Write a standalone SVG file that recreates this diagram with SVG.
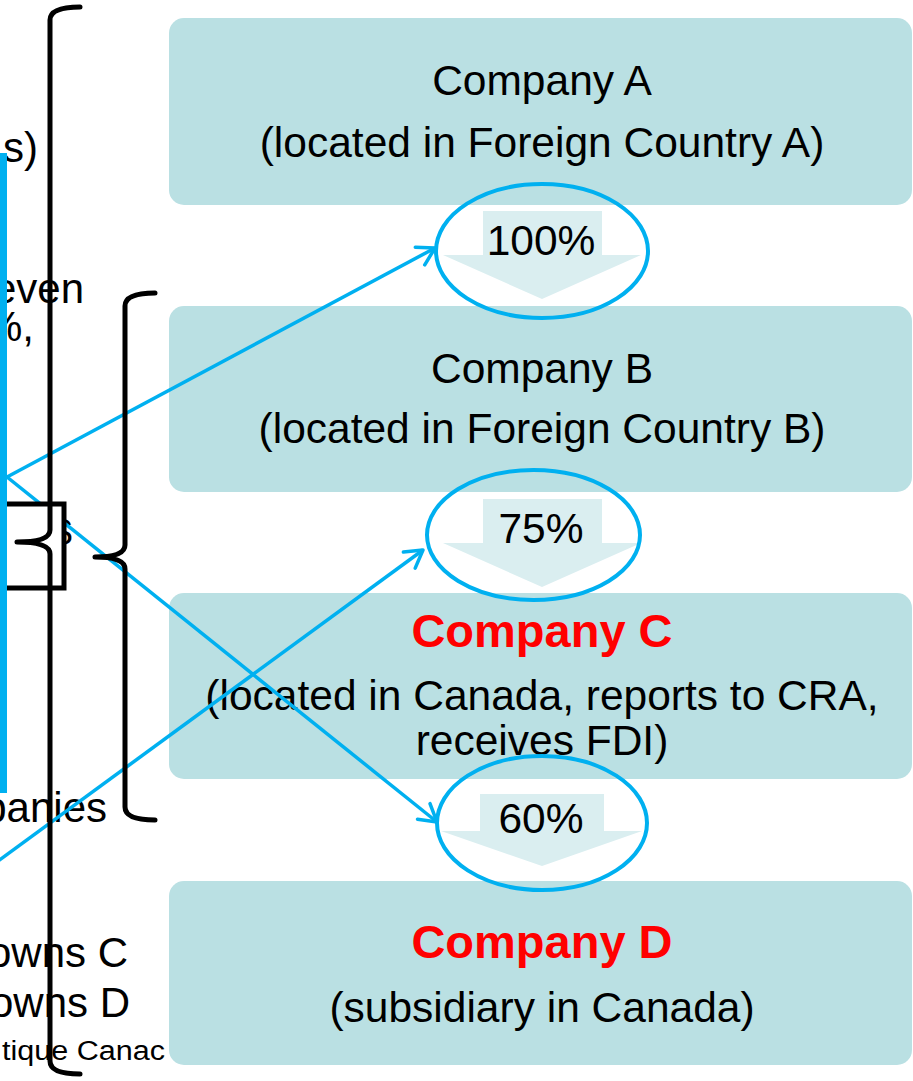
<svg xmlns="http://www.w3.org/2000/svg" width="913" height="1081" viewBox="0 0 913 1081">
<defs>
<style>
.box{fill:#BAE0E3}
.t{font-family:"Liberation Sans",Arial,sans-serif;font-size:42.5px;fill:#000;text-anchor:middle}
.b{font-family:"Liberation Sans",Arial,sans-serif;font-size:47px;font-weight:bold;fill:#FF0000;text-anchor:middle}
.l{font-family:"Liberation Sans",Arial,sans-serif;font-size:42px;fill:#000;text-anchor:end}
.arr{fill:#DAEEF0}
.ell{fill:none;stroke:#00B0F0;stroke-width:4}
.con{fill:none;stroke:#00B0F0;stroke-width:3.5}
.brace{fill:none;stroke:#000;stroke-width:5;stroke-linecap:round;stroke-linejoin:round}
</style>
<marker id="ah" viewBox="-2 -2 24 24" markerWidth="24" markerHeight="24" refX="18" refY="10" orient="auto" markerUnits="userSpaceOnUse">
<path d="M1,0 L18,10 L1,20" fill="none" stroke="#00B0F0" stroke-width="3.5" stroke-linecap="round" stroke-linejoin="round"/>
</marker>
</defs>

<g id="companyA">
<rect class="box" x="169" y="18" width="743" height="187" rx="15"/>
<text class="t" x="542" y="95">Company A</text>
<text class="t" x="542" y="157">(located in Foreign Country A)</text>
</g>
<g id="companyB">
<rect class="box" x="169" y="306" width="743" height="186" rx="15"/>
<text class="t" x="542" y="383">Company B</text>
<text class="t" x="542" y="443">(located in Foreign Country B)</text>
</g>
<g id="companyC">
<rect class="box" x="169" y="593" width="743" height="186" rx="15"/>
<text class="b" x="542" y="647">Company C</text>
<text class="t" x="542" y="710">(located in Canada, reports to CRA,</text>
<text class="t" x="542" y="755">receives FDI)</text>
</g>
<g id="companyD">
<rect class="box" x="169" y="881" width="743" height="184" rx="15"/>
<text class="b" x="542" y="958">Company D</text>
<text class="t" x="542" y="1022">(subsidiary in Canada)</text>
</g>

<g id="share100">
<path class="arr" d="M483,211 H602 V255 H641 L542,299 L443,255 H483 Z"/>
<text class="t" x="541" y="255">100%</text>
<ellipse class="ell" cx="542" cy="251" rx="106" ry="67"/>
</g>
<g id="share75">
<path class="arr" d="M483,499 H602 V543 H641 L542,587 L443,543 H483 Z"/>
<text class="t" x="541" y="543">75%</text>
<ellipse class="ell" cx="533.5" cy="535" rx="106.5" ry="65"/>
</g>
<g id="share60">
<path class="arr" d="M480,794 H604 V831 H642 L542,866 L441,831 H480 Z"/>
<text class="t" x="541" y="833">60%</text>
<ellipse class="ell" cx="542" cy="823" rx="105" ry="67"/>
</g>

<g id="leftText">
<text class="l" x="38" y="162">s)</text>
<text class="l" x="84" y="303">even</text>
<text class="l" x="34" y="341">%,</text>
<text class="l" x="107" y="822">panies</text>
<text class="l" x="128" y="967">owns C</text>
<text class="l" x="130" y="1017">owns D</text>
<text x="2" y="1060" textLength="163" lengthAdjust="spacingAndGlyphs" style="font-family:'Liberation Sans',Arial,sans-serif;font-size:27px">tique Canac</text>
<text x="49" y="545" style="font-family:'Liberation Sans',Arial,sans-serif;font-size:36px">S</text>
</g>

<g id="connectors">
<line class="con" x1="7" y1="477" x2="435" y2="248" marker-end="url(#ah)"/>
<line class="con" x1="7" y1="477" x2="437" y2="822" marker-end="url(#ah)"/>
<line class="con" x1="-6" y1="864" x2="423" y2="550" marker-end="url(#ah)"/>
</g>

<g id="boxS">
<rect x="-10" y="504" width="74" height="84" fill="#FFFFFF" stroke="#000" stroke-width="5"/>
</g>

<g id="braces">
<path class="brace" d="M80,7 Q50,7 50,20 L50,530 Q50,542 17,542 Q50,542 50,554 L50,1061 Q50,1074 80,1074"/>
<path class="brace" d="M155,293 Q125,293 125,306 L125,545 Q125,557 95,557 Q125,557 125,569 L125,807 Q125,820 155,820"/>
</g>

<g id="blueBar">
<rect x="0" y="153" width="7" height="640" fill="#00B0F0"/>
</g>
</svg>
